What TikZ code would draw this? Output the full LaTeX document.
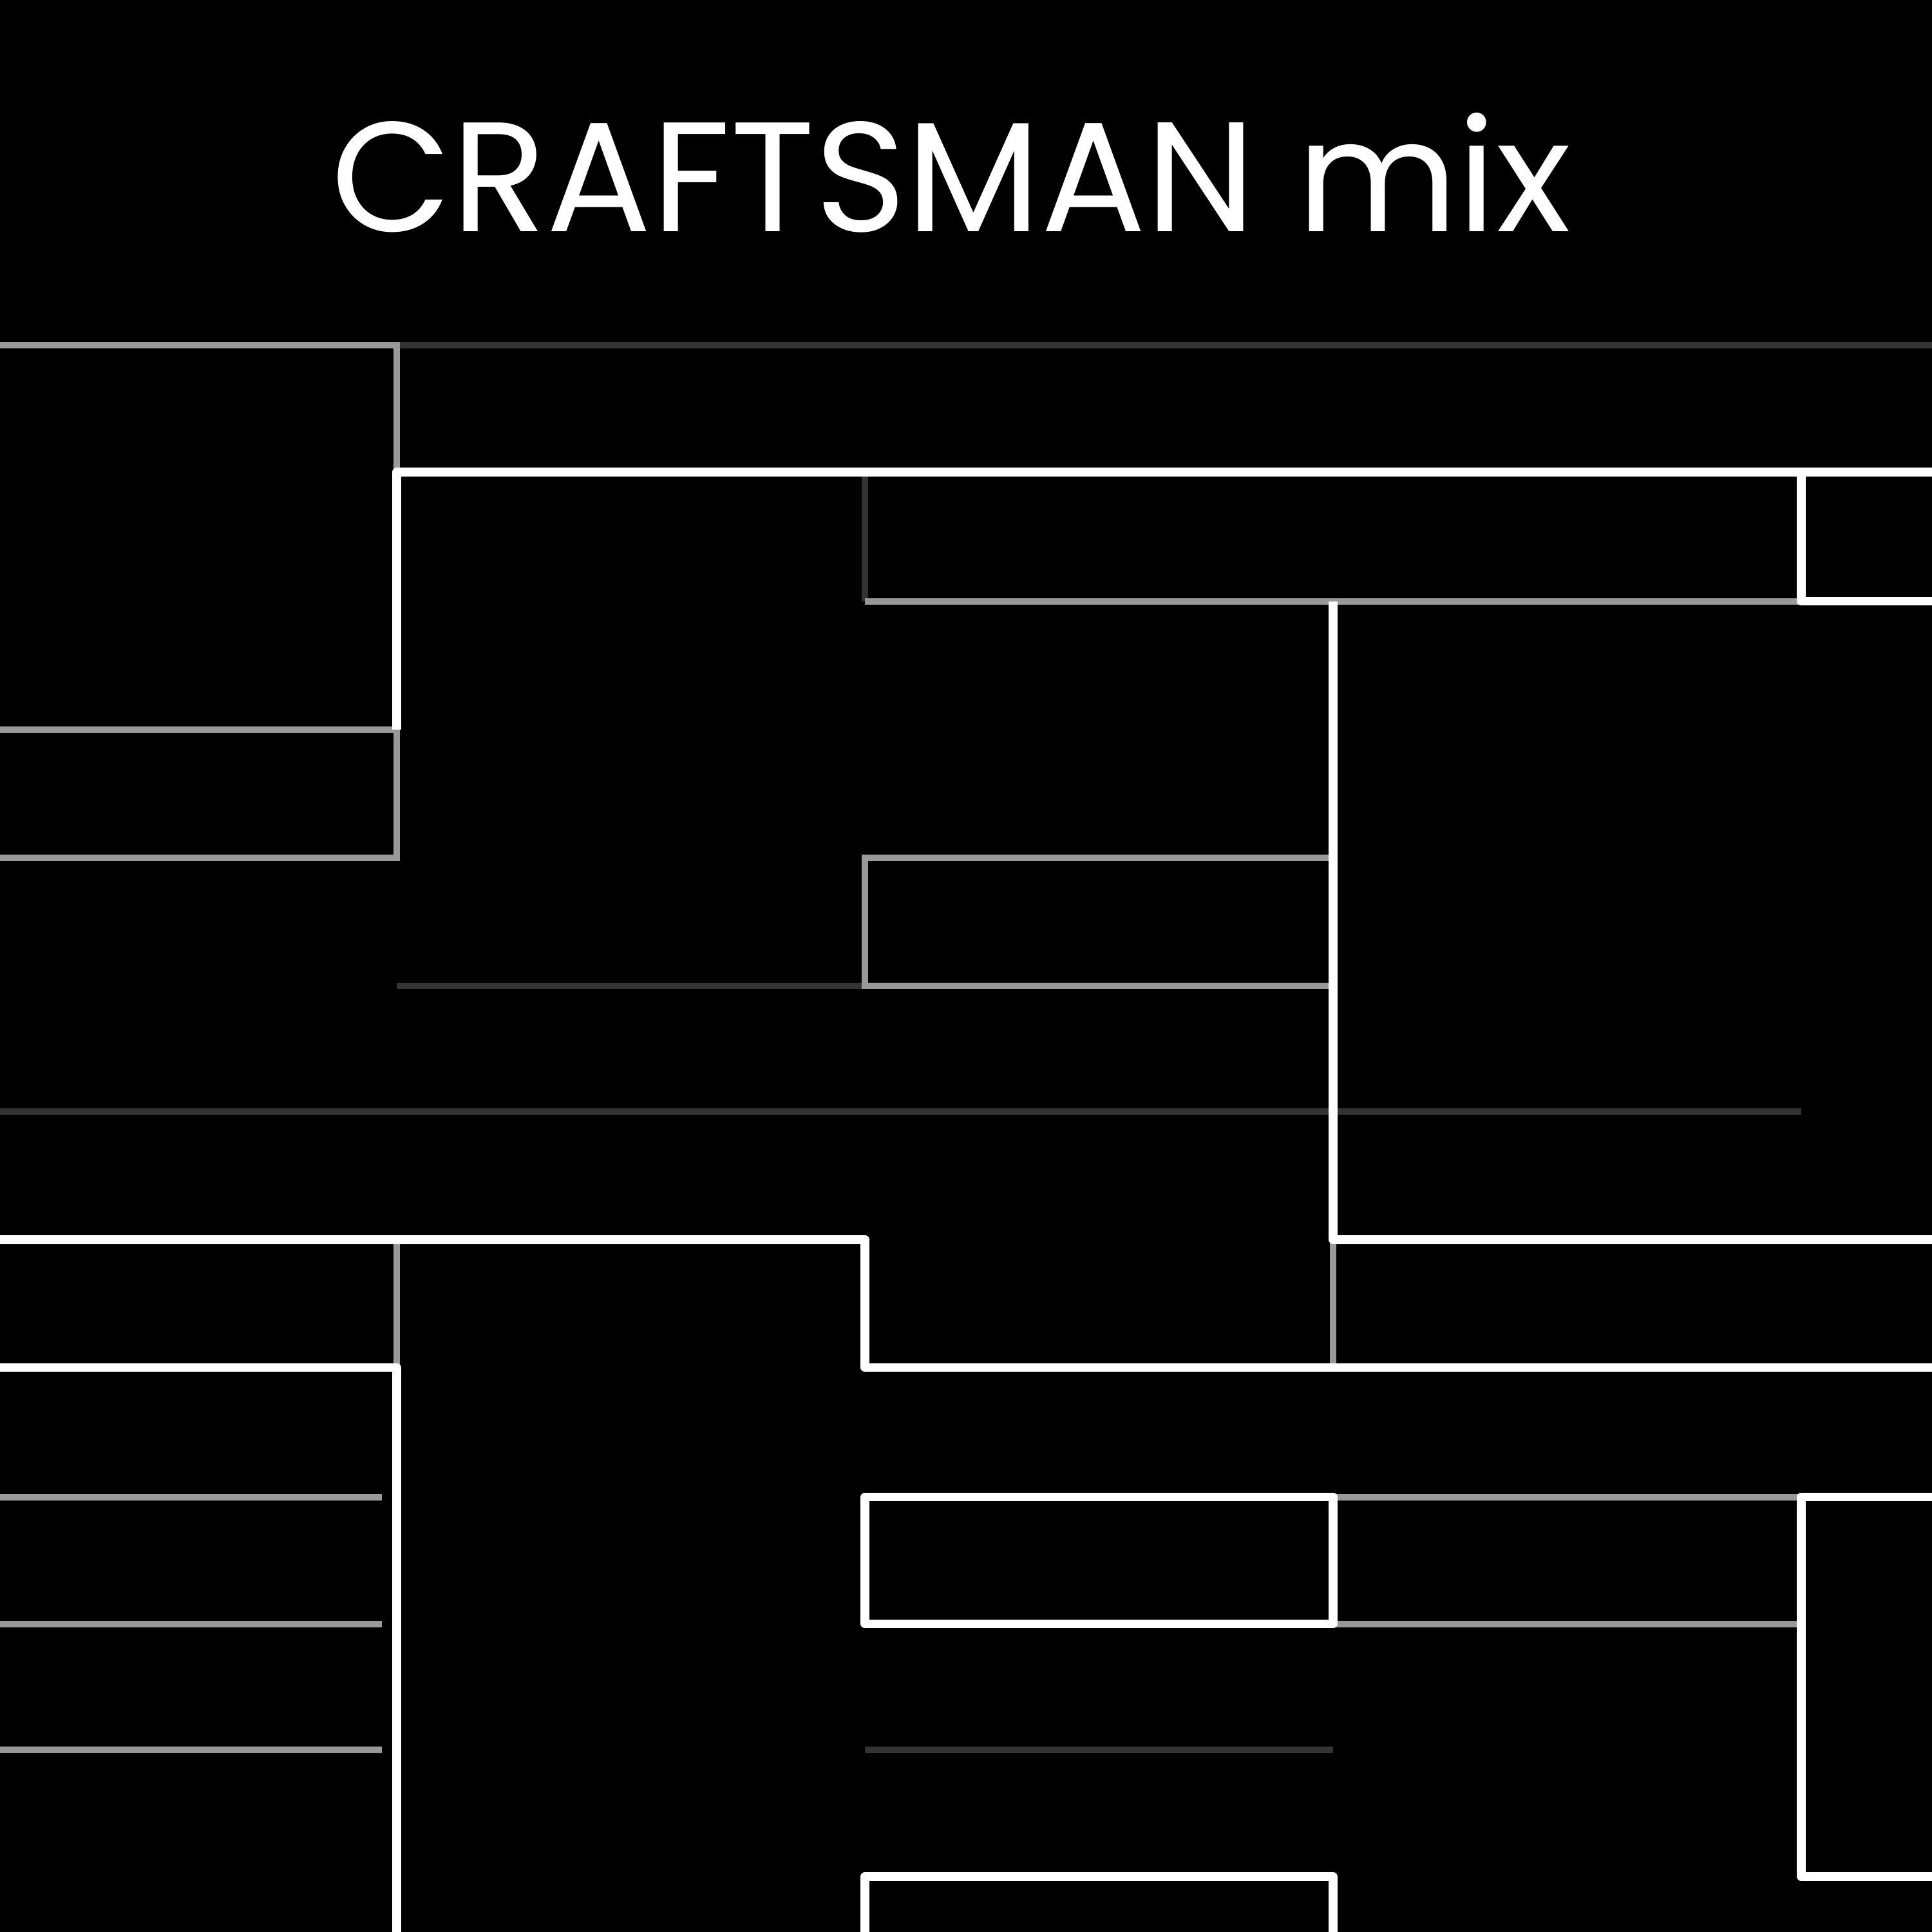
\documentclass[tikz,border=0pt]{standalone}
\usepackage{fontspec}
\setmainfont{Poppins}
\tikzset{
  wall/.style={white, line width=2pt, line join=round},
  grey wall/.style={white!60!black, line width=1.5pt},
  faint wall/.style={white!20!black, line width=1.5pt}
}
\begin{document}
\begin{tikzpicture}[x=0.01cm, y=-0.01cm]
\fill[black] (0,0) rectangle (1568,1568);
\useasboundingbox (0,0) rectangle (1568,1568);
\node[white, font=\fontsize{36}{40}\selectfont] (title) at (772,140) {CRAFTSMAN mix};
% faint grid lines
\draw[faint wall] (322,280) -- (1568,280);
\draw[faint wall] (702,383) -- (702,488);
\draw[faint wall] (0,902) -- (1462,902);
\draw[faint wall] (702,1420) -- (1082,1420);
\draw[faint wall] (322,800) -- (702,800);
% grey lines
\draw[grey wall] (0,280) -- (322,280) -- (322,383);
\draw[grey wall] (0,592) -- (322,592) -- (322,696) -- (0,696);
\draw[grey wall] (702,488) -- (1462,488);
\draw[grey wall] (702,696) rectangle (1082,800);
\draw[grey wall] (1082,1006) -- (1082,1110);
\draw[grey wall] (322,1006) -- (322,1110);
\draw[grey wall] (1082,1215) -- (1462,1215);
\draw[grey wall] (1082,1318) -- (1462,1318);
\foreach \y in {1215,1318,1420} \draw[grey wall] (0,\y) -- (310,\y);
% bright walls
\draw[wall] (322,592) -- (322,383) -- (1568,383);
\draw[wall] (1462,383) -- (1462,488) -- (1568,488);
\draw[wall] (1082,488) -- (1082,1006) -- (1568,1006);
\draw[wall] (0,1006) -- (702,1006) -- (702,1110) -- (1568,1110);
\draw[wall] (0,1110) -- (322,1110) -- (322,1568);
\draw[wall] (702,1215) rectangle (1082,1318);
\draw[wall] (1568,1215) -- (1462,1215) -- (1462,1523) -- (1568,1523);
\draw[wall] (702,1568) -- (702,1523) -- (1082,1523) -- (1082,1568);
\end{tikzpicture}
\end{document}
